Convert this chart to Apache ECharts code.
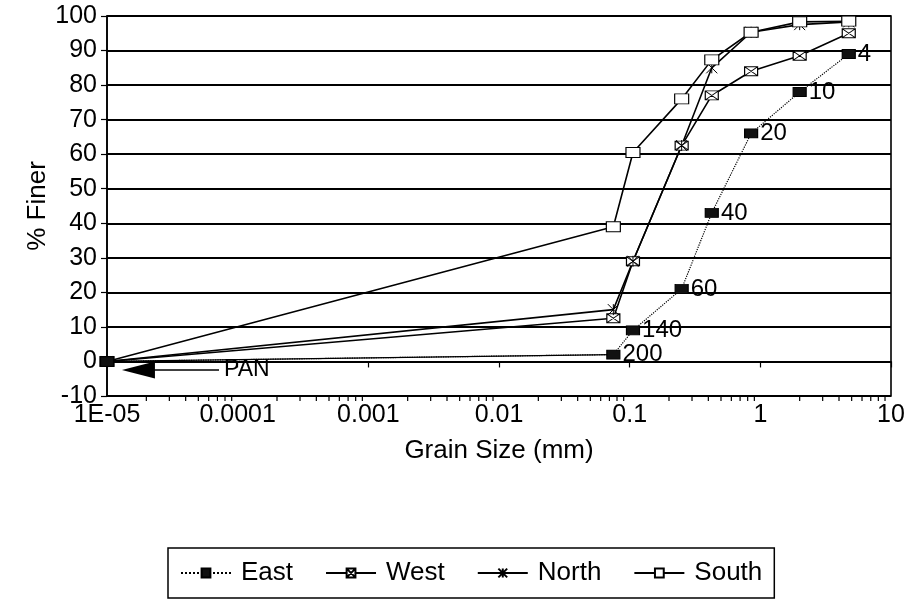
<!DOCTYPE html>
<html>
<head>
<meta charset="utf-8">
<script src="https://cdn.jsdelivr.net/npm/echarts@6/dist/echarts.min.js"></script>
<style>
html,body{margin:0;padding:0;background:#fff;}
#chart{width:910px;height:603px;}
</style>
</head>
<body>
<div id="chart"></div>
<script>
// ---- data ----
var grainSize = [1e-5, 0.075, 0.106, 0.25, 0.425, 0.85, 2.0, 4.75];
var eastFiner  = [0, 2, 9, 21, 43, 66, 78, 89];
var westFiner  = [0, 12.5, 29, 62.5, 77, 84, 88.5, 95];
var northFiner = [0, 15, 29, 62.5, 85, 95.3, 97.5, 98.3];
var southFiner = [0, 39, 60.5, 76, 87.3, 95.3, 98.3, 98.5];
var eastLabels = ['', '200', '140', '60', '40', '20', '10', '4'];
var seriesNames = ['East', 'West', 'North', 'South'];
var xTickLabels = ['1E-05', '0.0001', '0.001', '0.01', '0.1', '1', '10'];
var xTickExponents = [-5, -4, -3, -2, -1, 0, 1];
var minorMantissas = [2, 3, 4, 5, 6, 7, 8, 9];
var panText = 'PAN';
var panArrowFrom = [7.2e-5, -2.5];
var panArrowTo = [1.74e-5, -2.5];

function pairs(ys) { return grainSize.map(function (x, i) { return [x, ys[i]]; }); }

var minorTicks = [];
xTickExponents.slice(0, -1).forEach(function (e) {
  minorMantissas.forEach(function (m) { minorTicks.push([m * Math.pow(10, e), -10]); });
});

var FONT = '"Liberation Sans", Arial, sans-serif';
var chart = echarts.init(document.getElementById('chart'));

var option = {
  backgroundColor: '#fff',
  animation: false,
  textStyle: { fontFamily: FONT, color: '#000' },
  grid: { left: 107, right: 19, top: 16, bottom: 207, show: true, borderColor: '#000', borderWidth: 1.6, backgroundColor: 'transparent' },
  xAxis: {
    type: 'log', logBase: 10, min: 1e-5, max: 10,
    name: 'Grain Size (mm)', nameLocation: 'middle', nameGap: 42,
    nameTextStyle: { fontSize: 26, color: '#000', fontFamily: FONT },
    axisLine: { show: true, lineStyle: { color: '#000', width: 1.6 } },
    axisTick: { show: true, length: 6, lineStyle: { color: '#000', width: 1.2 } },
    splitLine: { show: false },
    axisLabel: {
      color: '#000', fontSize: 25, fontFamily: FONT, margin: 7,
      formatter: function (v) {
        var e = Math.round(Math.log10(v));
        var i = xTickExponents.indexOf(e);
        return i >= 0 ? xTickLabels[i] : '';
      }
    }
  },
  yAxis: {
    type: 'value', min: -10, max: 100, interval: 10,
    name: '% Finer', nameLocation: 'middle', nameGap: 56, nameRotate: 90, nameMoveOverlap: false,
    nameTextStyle: { fontSize: 26, color: '#000', fontFamily: FONT },
    axisLine: { show: true, lineStyle: { color: '#000', width: 1.6 } },
    axisTick: { show: true, length: 6, lineStyle: { color: '#000', width: 1.2 } },
    splitLine: { show: true, lineStyle: { color: '#000', width: 1.9 } },
    axisLabel: { color: '#000', fontSize: 25, fontFamily: FONT, margin: 10 }
  },
  legend: {
    data: seriesNames,
    left: 168, top: 548,
    padding: [12, 12],
    itemGap: 32,
    itemWidth: 50, itemHeight: 11,
    borderColor: '#000', borderWidth: 1.5,
    textStyle: { fontSize: 26, color: '#000', fontFamily: FONT, padding: [0, 0, 0, 5] }
  },
  series: [
    {
      name: 'East', type: 'line', data: pairs(eastFiner), z: 6,
      lineStyle: { color: '#000', width: 1.2, type: 'dotted' },
      symbol: 'rect', symbolSize: [13, 9],
      itemStyle: { color: '#111', borderColor: '#000', borderWidth: 1 },
      label: {
        show: true, position: 'right', distance: 2, fontSize: 24, color: '#000', fontFamily: FONT,
        formatter: function (p) { return eastLabels[p.dataIndex]; }
      },
      markLine: {
        silent: true, symbol: ['none', 'triangle'], symbolSize: [17, 33], precision: 10,
        lineStyle: { color: '#000', width: 1.5, type: 'solid' },
        label: { show: true, position: 'start', formatter: panText, fontSize: 23, color: '#000', fontFamily: FONT, distance: 5 },
        data: [[{ coord: panArrowFrom }, { coord: panArrowTo }]]
      }
    },
    {
      name: 'East', type: 'line', data: pairs(eastFiner).slice(0, 2), z: 4,
      lineStyle: { color: '#000', width: 1.2, type: 'solid' },
      symbol: 'none', silent: true
    },
    {
      name: 'West', type: 'line', data: pairs(westFiner), z: 5,
      lineStyle: { color: '#000', width: 1.6 },
      symbol: 'path://M0,0H13V9H0Z M0,0L13,9 M13,0L0,9', symbolSize: [13, 9],
      itemStyle: { color: '#fff', borderColor: '#000', borderWidth: 1 }
    },
    {
      name: 'North', type: 'line', data: pairs(northFiner), z: 5,
      lineStyle: { color: '#000', width: 1.6 },
      symbol: 'path://M0,0L10,10M10,0L0,10M5,0L5,10', symbolSize: 11,
      itemStyle: { color: 'none', borderColor: '#000', borderWidth: 1 }
    },
    {
      name: 'South', type: 'line', data: pairs(southFiner), z: 5,
      lineStyle: { color: '#000', width: 1.6 },
      symbol: 'rect', symbolSize: [14, 10],
      itemStyle: { color: '#fff', borderColor: '#000', borderWidth: 1 }
    },
    {
      name: 'minorTicks', type: 'custom', data: minorTicks, silent: true, clip: false, z: 3,
      renderItem: function (params, api) {
        var p = api.coord([api.value(0), api.value(1)]);
        return { type: 'line', shape: { x1: p[0], y1: p[1], x2: p[0], y2: p[1] + 5 }, style: { stroke: '#000', lineWidth: 1.2 } };
      }
    }
  ]
};
chart.setOption(option);
</script>
</body>
</html>
